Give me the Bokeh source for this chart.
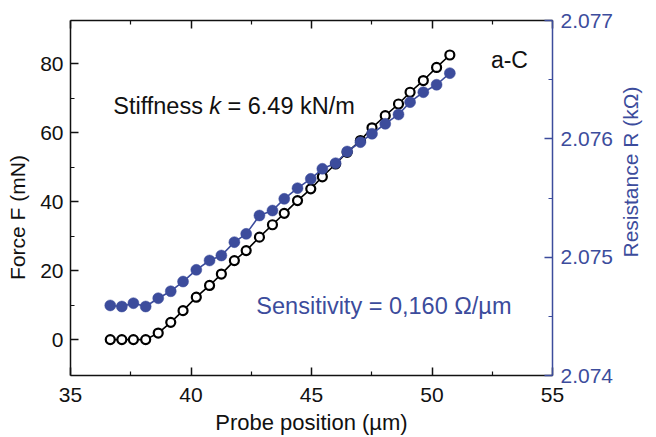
import math
from bokeh.plotting import figure
from bokeh.models import Range1d, LinearAxis, FixedTicker, PrintfTickFormatter, Label, CustomJSTickFormatter
from bokeh.embed import file_html
from bokeh.resources import INLINE

# ---------------- data ----------------
position_um = [36.65, 37.13, 37.61, 38.12, 38.64, 39.16, 39.67, 40.22, 40.77, 41.26,
               41.80, 42.29, 42.84, 43.38, 43.87, 44.42, 44.97, 45.45, 46.00, 46.48,
               47.03, 47.51, 48.06, 48.61, 49.09, 49.64, 50.19, 50.74]
force_mN = [0.0, 0.0, 0.0, 0.0, 1.9, 5.0, 8.4, 12.3, 15.7, 19.0,
            22.9, 25.8, 29.7, 33.3, 36.6, 40.3, 43.7, 47.2, 50.9, 54.3,
            57.7, 61.4, 64.9, 68.3, 71.7, 75.1, 78.9, 82.5]
resistance_kohm = [2.074592, 2.074583, 2.074611, 2.074583, 2.074653, 2.074712, 2.074794,
                   2.074893, 2.074972, 2.075014, 2.075127, 2.075197, 2.075352, 2.075394,
                   2.075493, 2.075583, 2.075662, 2.075747, 2.075794, 2.075893, 2.075972,
                   2.076043, 2.076127, 2.076206, 2.076310, 2.076394, 2.076457, 2.076555]

x_ticks = [35, 40, 45, 50, 55]
x_minor = [37.5, 42.5, 47.5, 52.5]
f_ticks = [0, 20, 40, 60, 80]
f_minor = [10, 30, 50, 70]
r_ticks = [2.074, 2.075, 2.076, 2.077]
r_minor = [2.0745, 2.0755, 2.0765]

x_title = "Probe position (µm)"
f_title = "Force F (mN)"
r_title = "Resistance R (kΩ)"

BLUE = "#3C4C9C"
BLACK = "#111111"
FONT = "Liberation Sans"

# ---------------- figure ----------------
X0, X1 = 35, 55
Y0, Y1 = -10.4, 92.5
R0, R1 = 2.074, 2.077
FW, FH = 485, 355
FL, FT = 70, 20   # frame left / top in picture pixels
p = figure(width=656, height=437, output_backend="svg", toolbar_location=None,
           x_range=Range1d(X0, X1), y_range=Range1d(Y0, Y1),
           min_border_left=FL, min_border_right=656 - FL - FW,
           min_border_top=FT, min_border_bottom=437 - FT - FH,
           x_axis_location=None, y_axis_location=None)
p.outline_line_color = None
p.grid.visible = False
p.background_fill_color = "white"
p.border_fill_color = "white"
p.extra_y_ranges = {"R": Range1d(R0, R1)}


def style_axis(ax, color, standoff=6):
    ax.axis_line_color = color
    ax.axis_line_width = 1.5
    ax.major_tick_line_color = color
    ax.minor_tick_line_color = color
    ax.major_tick_line_width = 1.5
    ax.minor_tick_line_width = 1.2
    ax.major_tick_in = 8
    ax.major_tick_out = 0
    ax.minor_tick_in = 4
    ax.minor_tick_out = 0
    ax.major_label_standoff = standoff
    ax.major_label_text_font = FONT
    ax.major_label_text_color = color
    ax.major_label_text_font_size = "21px"
    ax.axis_label_text_font = FONT
    ax.axis_label_text_font_style = "normal"
    ax.axis_label_text_color = color
    ax.axis_label_text_font_size = "21px"


def title_axis(ax, color, standoff):
    # an axis whose single tick label is the title (no line, no tick marks)
    ax.axis_line_color = None
    ax.major_tick_line_color = None
    ax.minor_tick_line_color = None
    ax.major_tick_in = 0
    ax.major_tick_out = 0
    ax.minor_tick_in = 0
    ax.minor_tick_out = 0
    ax.major_label_standoff = standoff
    ax.major_label_text_font = FONT
    ax.major_label_text_color = color
    ax.major_label_text_font_size = "21px"


bottom = LinearAxis(ticker=FixedTicker(ticks=x_ticks, minor_ticks=x_minor),
                    axis_label=x_title)
style_axis(bottom, BLACK, standoff=12)
bottom.axis_label_standoff = 5
bottom.axis_label_text_font_size = "22px"
p.add_layout(bottom, "below")

top = LinearAxis(ticker=FixedTicker(ticks=x_ticks, minor_ticks=x_minor),
                 formatter=CustomJSTickFormatter(code="return ''"))
style_axis(top, BLACK, standoff=0)
p.add_layout(top, "above")

left = LinearAxis(ticker=FixedTicker(ticks=f_ticks, minor_ticks=f_minor))
style_axis(left, BLACK, standoff=7)
p.add_layout(left, "left")

# left title: centred at picture y = 217, reading bottom-to-top
F_MID = Y1 - (217 - FT) * (Y1 - Y0) / FH
left_title = LinearAxis(ticker=FixedTicker(ticks=[F_MID]),
                        formatter=CustomJSTickFormatter(code=f"return {f_title!r}"))
title_axis(left_title, BLACK, 9)
left_title.major_label_orientation = "vertical"
p.add_layout(left_title, "left")

right = LinearAxis(y_range_name="R", ticker=FixedTicker(ticks=r_ticks, minor_ticks=r_minor),
                   formatter=PrintfTickFormatter(format="%.3f"))
style_axis(right, BLUE, standoff=8)
p.add_layout(right, "right")

# right title: starts at picture y = 257, reading bottom-to-top
R_START = R0 + (FT + FH - 257) * (R1 - R0) / FH
right_title = LinearAxis(y_range_name="R", ticker=FixedTicker(ticks=[R_START]),
                         formatter=CustomJSTickFormatter(code=f"return {r_title!r}"))
title_axis(right_title, BLUE, 14)
right_title.major_label_orientation = math.pi / 2
p.add_layout(right_title, "right")

# ---------------- data marks ----------------
p.line(position_um, force_mN, line_color="black", line_width=1.6)
p.scatter(position_um, force_mN, size=9, marker="circle", fill_color="white",
          line_color="black", line_width=2.2)
p.line(position_um, resistance_kohm, y_range_name="R", line_color=BLUE, line_width=1.6)
p.scatter(position_um, resistance_kohm, y_range_name="R", size=11, marker="circle",
          fill_color=BLUE, line_color=BLUE, line_width=0.5)

# ---------------- texts inside the frame ----------------
WID = {' ': 278, '(': 333, ')': 333, '=': 584, '.': 278, ',': 278, '/': 278, '-': 333,
       'F': 611, 'N': 722, 'P': 667, 'R': 722, 'S': 667, 'C': 722, 'a': 556, 'b': 556,
       'c': 500, 'e': 556, 'f': 278, 'i': 222, 'k': 500, 'm': 833, 'n': 556, 'o': 556,
       'p': 556, 'r': 333, 's': 500, 't': 278, 'v': 500, 'y': 500, 'µ': 576, 'Ω': 768}


def tw(s, size):
    return sum(WID.get(c, 556) for c in s) / 1000.0 * size


DX = (X1 - X0) / FW   # data units per px
DY = (Y1 - Y0) / FH


def img_to_data(ix, iy):
    return X0 + (ix - FL) * DX, Y1 - (iy - FT) * DY


def hpieces(pieces, ix, iy, size, color):
    x, y = img_to_data(ix, iy)
    cur = 0.0
    for t, style in pieces:
        txt = t.strip()
        lead = tw(t[:len(t) - len(t.lstrip())], size)
        p.add_layout(Label(x=x + (cur + lead) * DX, y=y, text=txt, text_font=FONT,
                           text_font_size=f"{size}px", text_font_style=style,
                           text_color=color, text_align="left", text_baseline="middle"))
        cur += tw(t, size)


hpieces([("Stiffness ", "normal"), ("k", "italic"), (" = 6.49 kN/m", "normal")], 113, 105, 23.5, BLACK)
hpieces([("a-C", "normal")], 493, 59, 23, BLACK)
hpieces([("Sensitivity = 0,160 Ω/µm", "normal")], 257, 305, 23.5, BLUE)

open("out.html", "w").write(file_html(p, INLINE))
